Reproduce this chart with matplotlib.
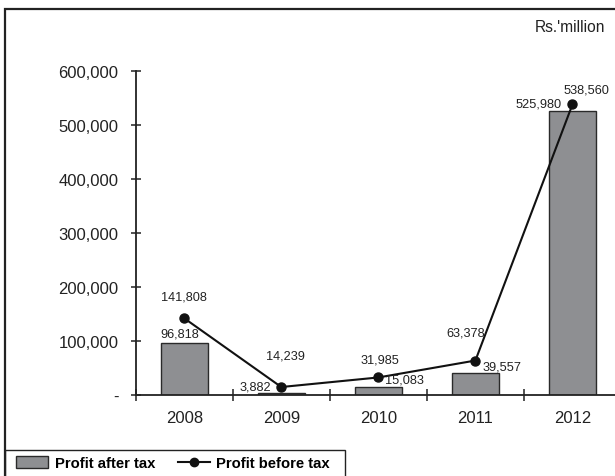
import matplotlib
matplotlib.use("Agg")
import matplotlib.pyplot as plt
from matplotlib.patches import Rectangle, Patch
from matplotlib.lines import Line2D
from matplotlib.ticker import FixedLocator, FuncFormatter

plt.rcParams['font.family'] = ['Liberation Sans', 'DejaVu Sans']

years = ["2008", "2009", "2010", "2011", "2012"]
profit_after_tax = [96818, 3882, 15083, 39557, 525980]
profit_before_tax = [141808, 14239, 31985, 63378, 538560]
y_ticks = [0, 100000, 200000, 300000, 400000, 500000, 600000]

# label offsets in pixels (dx, dy) relative to the mark they describe
after_offsets = [(-4, 3), (-26, 0), (26, 1), (27, 1), (-34, 2)]
before_offsets = [(0, 16), (4, 26), (2, 12), (-10, 22), (14, 9)]

W, H = 615, 477
fig = plt.figure(figsize=(W / 100, H / 100), dpi=100)

ax = fig.add_axes([135.7 / W, 1 - 395.7 / H, (621 - 135.7) / W, (395.7 - 72.3) / H])
x = list(range(len(years)))

ax.bar(x, profit_after_tax, width=0.48, color="#8e8f92", edgecolor="#2a2a2a",
       linewidth=1.0, zorder=2)
ax.plot(x, profit_before_tax, color="#111111", lw=1.5, marker="o",
        markersize=6.5, zorder=3)

for xi, v, (dx, dy) in zip(x, profit_after_tax, after_offsets):
    ax.annotate(f"{v:,}", (xi, v), xytext=(dx, dy), textcoords="offset pixels",
                ha="center", va="bottom", fontsize=9.2, color="#222222")
for xi, v, (dx, dy) in zip(x, profit_before_tax, before_offsets):
    ax.annotate(f"{v:,}", (xi, v), xytext=(dx, dy), textcoords="offset pixels",
                ha="center", va="bottom", fontsize=9.2, color="#222222")

ax.set_xlim(-0.5, 4.5)
ax.set_ylim(0, 600000)
for s in ("top", "right"):
    ax.spines[s].set_visible(False)
for s in ("left", "bottom"):
    ax.spines[s].set_color("#222222")
    ax.spines[s].set_linewidth(1.3)

ax.yaxis.set_major_locator(FixedLocator(y_ticks))
ax.yaxis.set_major_formatter(FuncFormatter(lambda v, p: "-" if v == 0 else f"{int(v):,}"))
ax.tick_params(axis="y", direction="inout", length=7, width=1.1, color="#222222",
               labelsize=12, labelcolor="#222222", pad=9)

ax.xaxis.set_major_locator(FixedLocator([-0.5, 0.5, 1.5, 2.5, 3.5]))
ax.xaxis.set_major_formatter(FuncFormatter(lambda v, p: ""))
ax.xaxis.set_minor_locator(FixedLocator(x))
ax.set_xticks(x, years, minor=True)
ax.tick_params(axis="x", which="major", direction="inout", length=8, width=1.1,
               color="#222222")
ax.tick_params(axis="x", which="minor", length=0, labelsize=12,
               labelcolor="#222222", pad=11)

fig.text(605 / W, 1 - 27 / H, "Rs.'million", ha="right", va="center",
         fontsize=11.2, color="#222222")

# outer frame, cut off by the right and bottom edges
fig.patches.append(Rectangle((5 / W, -0.1), 1.2, 1.1 - 10 / H, transform=fig.transFigure,
                             fill=False, edgecolor="#222222", linewidth=1.6))
# legend box
fig.patches.append(Rectangle((5 / W, -0.1), 340 / W, 0.1 + (477 - 451) / H,
                             transform=fig.transFigure, fill=False,
                             edgecolor="#222222", linewidth=1.0))

handles = [Patch(facecolor="#8e8f92", edgecolor="#2a2a2a", linewidth=1.0),
           Line2D([0], [0], color="#111111", lw=1.5, marker="o", markersize=6)]
fig.legend(handles, ["Profit after tax", "Profit before tax"], ncol=2,
           loc="center left", bbox_to_anchor=(6 / W, 1 - 464 / H), frameon=False,
           prop={"weight": "bold", "size": 10.7}, handlelength=2.15, handleheight=0.8,
           handletextpad=0.45, columnspacing=1.5, borderpad=0.2)

fig.savefig("out.png", dpi=100)
